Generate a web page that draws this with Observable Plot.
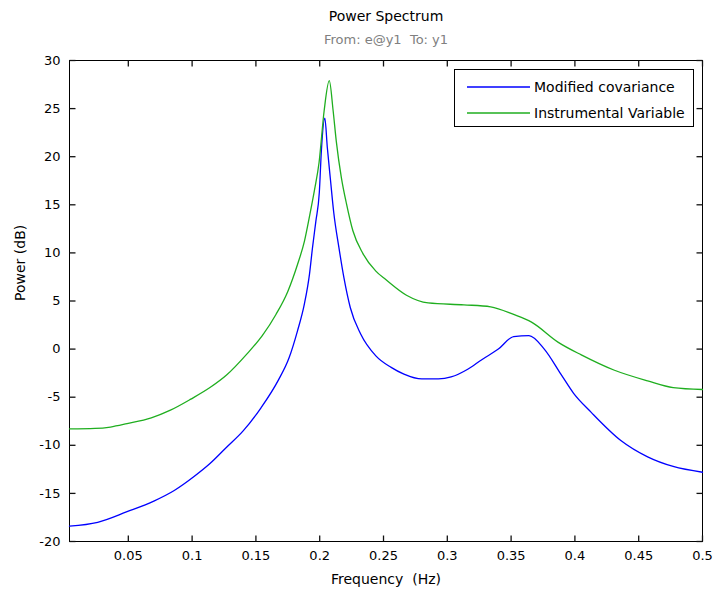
<!DOCTYPE html>
<html>
<head>
<meta charset="utf-8">
<script src="https://cdn.jsdelivr.net/npm/d3@7"></script>
<script src="https://cdn.jsdelivr.net/npm/@observablehq/plot@0.6"></script>
<style>
  body { margin: 0; background: #fff; }
  #wrap { position: relative; width: 715px; height: 596px; font-family: "DejaVu Sans", sans-serif; }
  #legend { position: absolute; left: 454px; top: 69px; width: 238px; height: 56px; border: 1px solid #000; background: #fff; font-size: 14px; color: #000; }
  #legend .row { position: absolute; left: 12px; height: 20px; display: flex; align-items: center; }
  #legend svg { display: block; margin-right: 3px; }
</style>
</head>
<body>
<div id="wrap"></div>
<script>
// ---- data ----
const title = "Power Spectrum";
const subtitle = "From: e@y1  To: y1";
const xLabel = "Frequency  (Hz)";
const yLabel = "Power (dB)";
const seriesNames = ["Modified covariance", "Instrumental Variable"];
const seriesColors = ["#0000ff", "#1fae1f"];

const xDomain = [0.00390625, 0.5];
const yDomain = [-20, 30];
const xTicks = [0.05, 0.1, 0.15, 0.2, 0.25, 0.3, 0.35, 0.4, 0.45, 0.5];
const yTicks = [-20, -15, -10, -5, 0, 5, 10, 15, 20, 25, 30];

const mcovFreq = [0.0039, 0.026, 0.049, 0.070, 0.086, 0.101, 0.114, 0.127, 0.140, 0.154,
  0.1677, 0.176, 0.1826, 0.188, 0.192, 0.1944, 0.197, 0.1997, 0.2013, 0.204,
  0.206, 0.2085, 0.211, 0.215, 0.219, 0.224, 0.232, 0.244, 0.256, 0.266,
  0.280, 0.293, 0.303, 0.316, 0.327, 0.340, 0.352, 0.364, 0.376, 0.389,
  0.399, 0.413, 0.436, 0.457, 0.477, 0.5];
const mcovPower = [-18.4, -18.0, -16.9, -15.8, -14.7, -13.3, -11.9, -10.2, -8.5, -6.1,
  -3.2, -0.9, 1.9, 4.7, 7.8, 10.6, 13.3, 16.3, 20.6, 24.0,
  20.9, 17.5, 14.2, 10.6, 7.4, 4.3, 1.6, -0.7, -1.9, -2.6,
  -3.1, -3.1, -2.9, -2.1, -1.1, 0.0, 1.3, 1.4, 0.0, -2.6,
  -4.6, -6.6, -9.5, -11.2, -12.2, -12.8];

const ivFreq = [0.0039, 0.024, 0.036, 0.049, 0.068, 0.083, 0.099, 0.114, 0.127, 0.143,
  0.155, 0.1657, 0.175, 0.1826, 0.188, 0.192, 0.196, 0.1995, 0.2035,
  0.2075, 0.2105, 0.213, 0.217, 0.221, 0.226, 0.234, 0.244, 0.252, 0.268,
  0.285, 0.313, 0.334, 0.352, 0.366, 0.387, 0.405, 0.431, 0.457, 0.477, 0.5];
const ivPower = [-8.3, -8.25, -8.1, -7.75, -7.15, -6.35, -5.2, -4.0, -2.7, -0.5,
  1.4, 3.6, 6.0, 8.8, 11.2, 13.8, 16.6, 19.4, 24.8,
  27.9, 24.8, 21.6, 17.8, 15.1, 12.3, 9.9, 8.1, 7.2, 5.6,
  4.8, 4.6, 4.4, 3.6, 2.8, 0.7, -0.6, -2.2, -3.3, -4.0, -4.2];

// ---- build tables ----
const mcov = mcovFreq.map((f, i) => ({f, p: mcovPower[i]}));
const iv = ivFreq.map((f, i) => ({f, p: ivPower[i]}));

const font = "DejaVu Sans, sans-serif";
const W = 715, H = 596, mL = 69, mR = 13, mT = 60, mB = 55;
const tickLen = 6;
const frameW = W - mL - mR, frameH = H - mT - mB;
// tick lengths converted to data units so the ticks go through the scales
const dyTick = (yDomain[1] - yDomain[0]) * tickLen / frameH;
const dxTick = (xDomain[1] - xDomain[0]) * tickLen / frameW;
const xTickSegs = xTicks.flatMap(v => [
  {x1: v, x2: v, y1: yDomain[0], y2: yDomain[0] + dyTick},
  {x1: v, x2: v, y1: yDomain[1], y2: yDomain[1] - dyTick}]);
const yTickSegs = yTicks.flatMap(v => [
  {x1: xDomain[0], x2: xDomain[0] + dxTick, y1: v, y2: v},
  {x1: xDomain[1], x2: xDomain[1] - dxTick, y1: v, y2: v}]);

const chart = Plot.plot({
  width: W,
  height: H,
  marginLeft: mL,
  marginRight: mR,
  marginTop: mT,
  marginBottom: mB,
  style: {fontFamily: font, background: "#fff", color: "#000"},
  x: {domain: xDomain, label: null},
  y: {domain: yDomain, label: null},
  marks: [
    Plot.frame({stroke: "#000", strokeWidth: 1}),
    Plot.line(mcov, {x: "f", y: "p", stroke: seriesColors[0], strokeWidth: 1.3, curve: "monotone-x"}),
    Plot.line(iv, {x: "f", y: "p", stroke: seriesColors[1], strokeWidth: 1.3, curve: "monotone-x"}),
    // inward ticks on all four sides
    Plot.link(xTickSegs.concat(yTickSegs), {x1: "x1", x2: "x2", y1: "y1", y2: "y2", stroke: "#111", strokeWidth: 1.3}),
    // tick labels
    Plot.axisX(xTicks, {anchor: "bottom", tickSize: 0, tickPadding: 9, fontSize: 13, label: null, tickFormat: d => String(d)}),
    Plot.axisY(yTicks, {anchor: "left", tickSize: 0, tickPadding: 9, fontSize: 13, label: null, tickFormat: d => String(d)}),
    // titles and axis labels
    Plot.text([title], {text: d => d, frameAnchor: "top", dy: -49, fontSize: 14, fill: "#000"}),
    Plot.text([subtitle], {text: d => d.replace("  ", " \u00a0"), frameAnchor: "top", dy: -26, fontSize: 13, fill: "#808080"}),
    Plot.text([xLabel], {text: d => d.replace("  ", " \u00a0"), frameAnchor: "bottom", dy: 42, fontSize: 14, fill: "#000"}),
    Plot.text([yLabel], {text: d => d, frameAnchor: "left", dx: -49, rotate: -90, fontSize: 14, fill: "#000"})
  ]
});

const wrap = document.getElementById("wrap");
wrap.appendChild(chart);

// legend (HTML overlay)
const legend = document.createElement("div");
legend.id = "legend";
seriesNames.forEach((name, i) => {
  const row = document.createElement("div");
  row.className = "row";
  row.style.top = (7 + i * 26) + "px";
  row.innerHTML = `<svg width="64" height="6"><line x1="0" y1="3" x2="63" y2="3" stroke="${seriesColors[i]}" stroke-width="1.5"/></svg><span>${name}</span>`;
  legend.appendChild(row);
});
wrap.appendChild(legend);
</script>
</body>
</html>
